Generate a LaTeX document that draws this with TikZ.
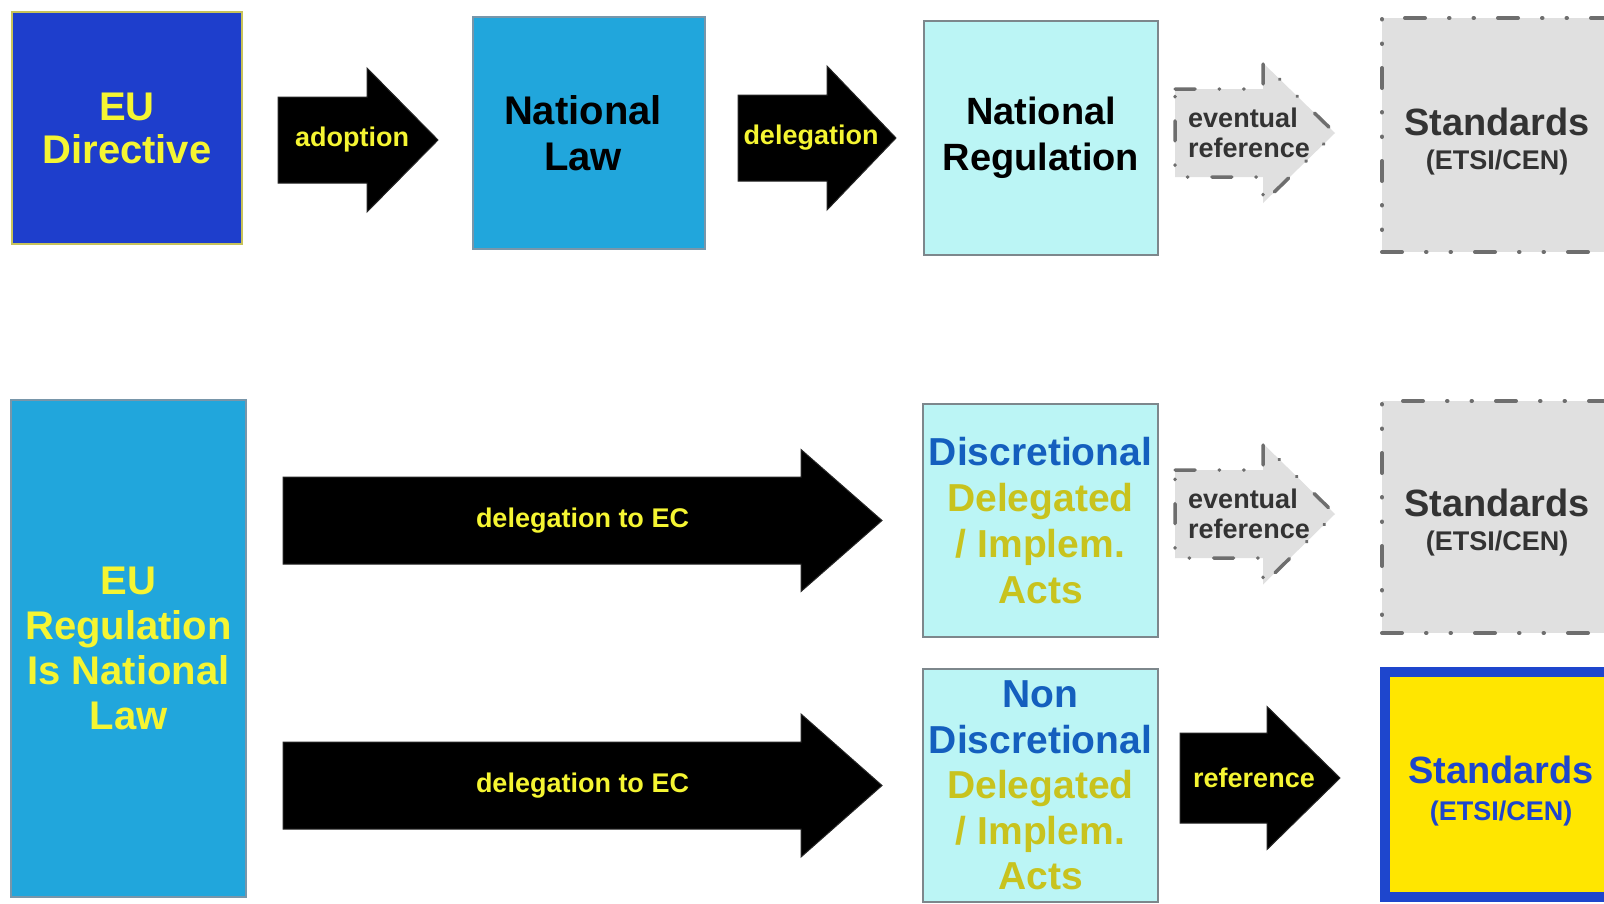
\documentclass[tikz,border=0pt]{standalone}
\usepackage{fontspec}
\setmainfont{Liberation Sans}
\definecolor{dirblue}{RGB}{30,62,204}
\definecolor{diredge}{RGB}{200,195,90}
\definecolor{lawblue}{RGB}{33,166,220}
\definecolor{lawedge}{RGB}{120,150,170}
\definecolor{paleCyan}{RGB}{187,245,245}
\definecolor{cyanedge}{RGB}{125,135,140}
\definecolor{graybox}{RGB}{224,224,224}
\definecolor{dashgray}{RGB}{110,110,110}
\definecolor{ytext}{RGB}{245,245,50}
\definecolor{dtext}{RGB}{51,51,51}
\definecolor{discblue}{RGB}{20,95,190}
\definecolor{olive}{RGB}{200,195,30}
\definecolor{stdyellow}{RGB}{255,230,0}
\definecolor{stdblue}{RGB}{30,70,205}
\newcommand{\fs}[2]{\fontsize{#1}{#2}\selectfont}
% #1 style, #2 name, #3 x0, #4 xhead, #5 xtip, #6 yc, #7 body half, #8 head half, #9 text
\newcommand{\blockarrow}[9]{%
  \draw[#1] (#3,#6-#7) -- (#4,#6-#7) -- (#4,#6-#8) -- (#5,#6) -- (#4,#6+#8) -- (#4,#6+#7) -- (#3,#6+#7) -- cycle;
  \node[#1 text] (#2) at ({(#3+#5)/2-6},#6) {#9};
}
\begin{document}
\begin{tikzpicture}[x=1pt,y=-1pt,
  box/.style={draw, line width=1.5pt, align=center, inner sep=0pt},
  dashdot/.style={draw=dashgray, line width=4pt, line cap=round,
    dash pattern=on 20pt off 24pt on 0.5pt off 24pt on 0.5pt off 24pt},
  blackarrow/.style={fill=black, draw=black!85, line width=1pt},
  blackarrow text/.style={text=ytext, font=\bfseries\fs{27}{30}, inner sep=0pt},
  longarrow/.style={blackarrow},
  longarrow text/.style={blackarrow text, xshift=6pt},
  grayarrow/.style={fill=graybox, dashdot, line width=3.5pt},
  grayarrow text/.style={text=dtext, font=\bfseries\fs{27}{30}, align=left, inner sep=0pt},
  stdbox/.style={box, fill=graybox, dashdot, text=dtext, font=\bfseries\fs{38}{34}},
]
\useasboundingbox (0,0) rectangle (1604,903);
\clip (0,0) rectangle (1604,903);
\fill[white] (0,0) rectangle (1604,903);

% ---- top row ----
\node[box, fill=dirblue, draw=diredge, text=ytext, minimum width=230pt, minimum height=232pt,
  font=\bfseries\fs{40}{43}] (dir) at (127,128) {EU\\Directive};
\node[box, fill=lawblue, draw=lawedge, text=black, minimum width=232pt, minimum height=232pt,
  font=\bfseries\fs{40}{46}] (law) at (589,133) {National\kern12pt\\Law\kern12pt};
\node[box, fill=paleCyan, draw=cyanedge, text=black, minimum width=234pt, minimum height=234pt,
  font=\bfseries\fs{38}{46}] (reg) at (1041,138) {National\\Regulation};
\node[stdbox, minimum width=230pt, minimum height=234pt] (std1) at (1497,135)
  {\rule{0pt}{40pt}Standards\\{\fs{27}{34}(ETSI/CEN)}};

\blockarrow{blackarrow}{adopt}{278}{367}{438}{140}{43}{72}{adoption}
\blockarrow{blackarrow}{deleg}{738}{827}{896}{138}{43}{72}{delegation}
\blockarrow{grayarrow}{evref1}{1175}{1263}{1335}{133}{44}{70}{eventual\\reference}

% ---- bottom rows ----
\node[box, fill=lawblue, draw=lawedge, text=ytext, minimum width=235pt, minimum height=497pt,
  font=\bfseries\fs{40}{45}] (eureg) at (128.5,648.5) {EU\\Regulation\\Is National\\Law};
\node[box, fill=paleCyan, draw=cyanedge, text=olive, minimum width=235pt, minimum height=233pt,
  font=\bfseries\fs{39}{46}] (disc) at (1040.5,520.5)
  {{\color{discblue}Discretional}\\Delegated\\/ Implem.\\Acts};
\node[box, fill=paleCyan, draw=cyanedge, text=olive, minimum width=235pt, minimum height=233pt,
  font=\bfseries\fs{39}{45.5}] (nondisc) at (1040.5,785.5)
  {{\color{discblue}Non}\\{\color{discblue}Discretional}\\Delegated\\/ Implem.\\Acts};
\node[stdbox, minimum width=230pt, minimum height=232pt] (std2) at (1497,517)
  {\rule{0pt}{38pt}Standards\\{\fs{27}{34}(ETSI/CEN)}};
\node[box, fill=stdyellow, draw=stdblue, line width=10pt, text=stdblue, minimum width=232pt,
  minimum height=225pt, font=\bfseries\fs{38}{37}] (std3) at (1501,784.5)
  {\rule{0pt}{40pt}Standards\\{\fs{27}{37}(ETSI/CEN)}};

\blockarrow{longarrow}{decA}{283}{801}{882}{520.5}{43.5}{71}{delegation to EC}
\blockarrow{longarrow}{decB}{283}{801}{882}{785.5}{43.5}{71.5}{delegation to EC}
\blockarrow{grayarrow}{evref2}{1175}{1263}{1335}{514}{44}{70.5}{eventual\\reference}
\blockarrow{blackarrow}{refarr}{1180}{1267}{1340}{778}{45}{71.5}{reference}
\end{tikzpicture}
\end{document}
